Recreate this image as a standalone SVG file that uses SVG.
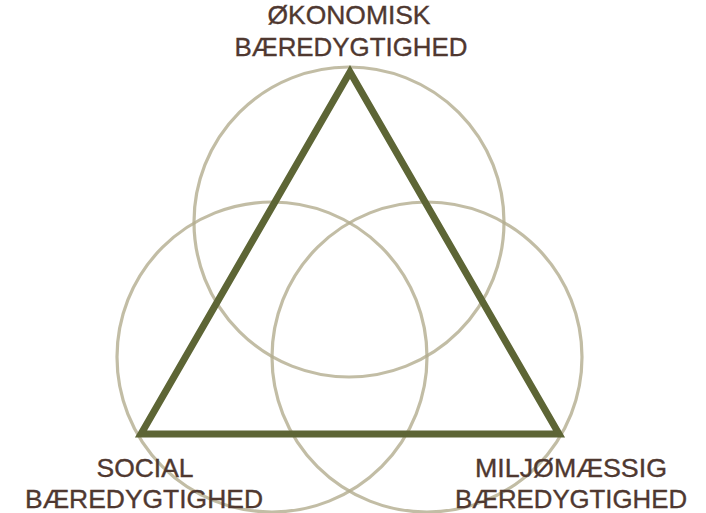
<svg xmlns="http://www.w3.org/2000/svg" width="706" height="513" viewBox="0 0 706 513">
<style>
.c{fill:none;stroke:#b3ad8e;stroke-width:3.2;stroke-opacity:0.8}
.t{fill:#4f3830;stroke:#4f3830;stroke-width:0.35;font-family:"Liberation Sans",Arial,sans-serif;font-size:25px;text-anchor:middle}
</style>
<rect width="706" height="513" fill="#fff"/>
<g id="circles">
<circle id="c-top" class="c" cx="349" cy="222" r="155"/>
<circle id="c-left" class="c" cx="272" cy="357" r="155"/>
<circle id="c-right" class="c" cx="427" cy="357" r="155"/>
</g>
<g id="connectors">
<polygon points="350,72 141,434 559,434" fill="none" stroke="#5d6535" stroke-width="7" stroke-linejoin="miter"/>
</g>
<g id="node-top">
<text class="t" x="349" y="24" textLength="163" lengthAdjust="spacingAndGlyphs">ØKONOMISK</text>
<text class="t" x="351" y="56" textLength="233" lengthAdjust="spacingAndGlyphs">BÆREDYGTIGHED</text>
</g>
<g id="node-left">
<text class="t" x="145" y="477" textLength="97" lengthAdjust="spacingAndGlyphs">SOCIAL</text>
<text class="t" x="144" y="508" textLength="238" lengthAdjust="spacingAndGlyphs">BÆREDYGTIGHED</text>
</g>
<g id="node-right">
<text class="t" x="571" y="477" textLength="192" lengthAdjust="spacingAndGlyphs">MILJØMÆSSIG</text>
<text class="t" x="571" y="508" textLength="232" lengthAdjust="spacingAndGlyphs">BÆREDYGTIGHED</text>
</g>
</svg>
